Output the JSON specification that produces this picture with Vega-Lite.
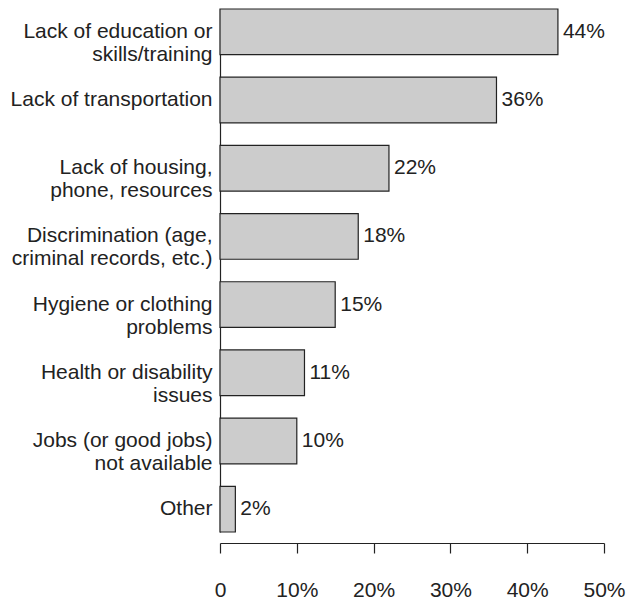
{
  "$schema": "https://vega.github.io/schema/vega-lite/v6.json",
  "autosize": "none",
  "padding": {"left": 220, "top": 9, "right": 28, "bottom": 67},
  "width": 384,
  "height": 523,
  "background": "white",
  "config": {
    "view": {"stroke": null},
    "font": "Liberation Sans",
    "axis": {"labelFont": "Liberation Sans", "labelColor": "#222222", "domainColor": "#222222", "tickColor": "#222222", "grid": false, "title": null}
  },
  "data": {
    "values": [
      {"cause": "Lack of education or|skills/training", "pct": 44},
      {"cause": "Lack of transportation", "pct": 36},
      {"cause": "Lack of housing,|phone, resources", "pct": 22},
      {"cause": "Discrimination (age,|criminal records, etc.)", "pct": 18},
      {"cause": "Hygiene or clothing|problems", "pct": 15},
      {"cause": "Health or disability|issues", "pct": 11},
      {"cause": "Jobs (or good jobs)|not available", "pct": 10},
      {"cause": "Other", "pct": 2}
    ]
  },
  "encoding": {
    "y": {
      "field": "cause", "type": "nominal", "sort": null,
      "scale": {"paddingInner": 0.33, "paddingOuter": 0},
      "axis": {"ticks": false, "labelFontSize": 21, "labelPadding": 8, "labelLineHeight": 23, "labelExpr": "split(datum.label, '|')", "domainWidth": 1.2, "labelLimit": 300}
    },
    "x": {
      "field": "pct", "type": "quantitative",
      "scale": {"domain": [0, 50], "nice": false},
      "axis": {"values": [0, 10, 20, 30, 40, 50], "offset": 11, "tickSize": 10, "labelPadding": 26, "labelFontSize": 21, "domainWidth": 1.2, "tickWidth": 1.2, "labelExpr": "datum.value == 0 ? '0' : datum.value + '%'", "labelFlush": false}
    }
  },
  "layer": [
    {"mark": {"type": "bar", "fill": "#cccccc", "stroke": "#222222", "strokeWidth": 1.2}},
    {"mark": {"type": "text", "align": "left", "baseline": "middle", "dx": 5, "fontSize": 21, "fill": "#222222", "text": {"expr": "datum.pct + '%'"}}}
  ]
}
